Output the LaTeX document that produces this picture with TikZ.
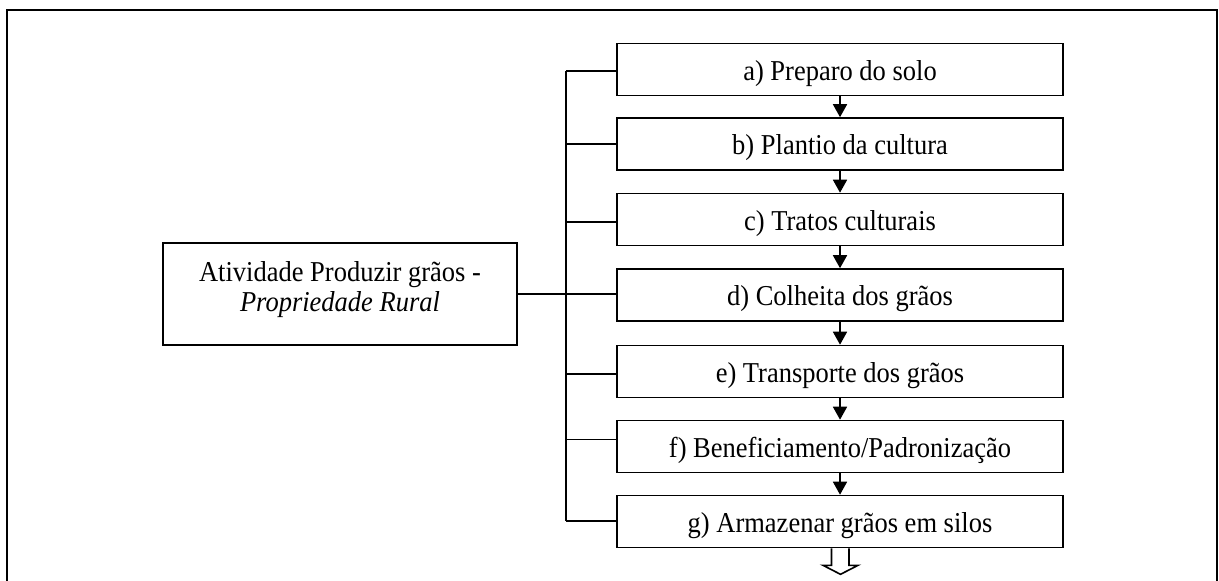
\documentclass[tikz,border=0pt]{standalone}
\usepackage{fontspec}
\setmainfont[FakeStretch=0.92]{Liberation Serif}
\usetikzlibrary{arrows.meta,calc}
\begin{document}
\begin{tikzpicture}[x=0.5pt,y=-0.5pt,
  line width=0.8pt,
  procbox/.style={draw, minimum width=223pt, minimum height=26pt, inner sep=0pt,
    text height=10.5pt, text depth=0pt,
    font=\fontsize{14.4pt}{15pt}\selectfont},
  flow/.style={-{Triangle[width=7pt,length=6.5pt]}},
  link/.style={line width=0.8pt}]
\useasboundingbox (0,0) rectangle (1219,580);
\fill[white] (0,0) rectangle (1219,580);
% outer frame (open at bottom)
\draw[line width=1pt] (6.5,590) -- (6.5,10) -- (1217,10) -- (1217,590);
% step boxes
\node[procbox] (a) at (840,69.5) {a) Preparo do solo};
\node[procbox] (b) at (840,144) {b) Plantio da cultura};
\node[procbox] (c) at (840,219.5) {c) Tratos culturais};
\node[procbox] (d) at (840,295) {d) Colheita dos grãos};
\node[procbox] (e) at (840,371.5) {e) Transporte dos grãos};
\node[procbox] (f) at (840,446.5) {f) Beneficiamento/Padronização};
\node[procbox] (g) at (840,521.5) {g) Armazenar grãos em silos};
% main box
\node[draw, minimum width=177pt, minimum height=51pt, inner sep=0pt] (main) at (340,294) {};
\node[align=center, anchor=north, font=\fontsize{14.4pt}{15pt}\selectfont, inner sep=0pt] (maintext) at (340,260.5)
  {Atividade Produzir grãos -\\\textit{Propriedade Rural}};
% flow arrows
\draw[flow] (a.south) -- (b.north);
\draw[flow] (b.south) -- (c.north);
\draw[flow] (c.south) -- (d.north);
\draw[flow] (d.south) -- (e.north);
\draw[flow] (e.south) -- (f.north);
\draw[flow] (f.south) -- (g.north);
% spine and branches
\coordinate (s1) at (566,71);
\coordinate (s2) at (566,144);
\coordinate (s3) at (566,222);
\coordinate (s5) at (566,374);
\coordinate (s6) at (566,439.5);
\coordinate (s7) at (566,521);
\draw[link] (s1) -- (s7);
\draw[link] (s1) -- (s1 -| a.west);
\draw[link] (s2) -- (s2 -| b.west);
\draw[link] (s3) -- (s3 -| c.west);
\draw[link] (main.east) -- (main.east -| d.west);
\draw[link] (s5) -- (s5 -| e.west);
\draw[link] (s6) -- (s6 -| f.west);
\draw[link] (s7) -- (s7 -| g.west);
% hollow output arrow
\draw[line width=0.8pt, line join=miter]
  ($(g.south)+(-8.5,0)$) -- ($(g.south)+(-8.5,17)$) -- ($(g.south)+(-17,17)$)
  -- ($(g.south)+(0.5,26)$) -- ($(g.south)+(18,17)$) -- ($(g.south)+(9,17)$)
  -- ($(g.south)+(9,0)$);
\end{tikzpicture}
\end{document}
